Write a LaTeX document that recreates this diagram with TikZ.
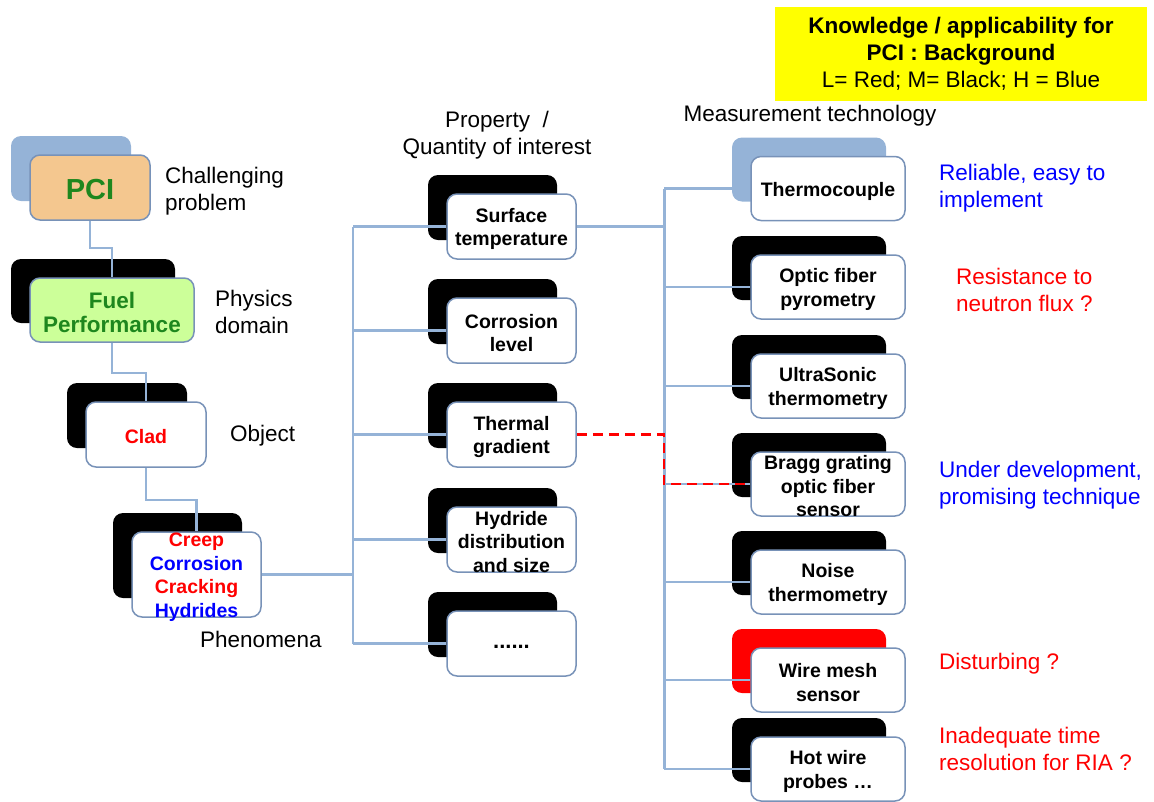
\documentclass[tikz,border=0pt]{standalone}
\usepackage{fontspec}
\setmainfont{Liberation Sans}
\pgfdeclarelayer{bg}\pgfdeclarelayer{mid}\pgfsetlayers{bg,mid,main}
\definecolor{connblue}{RGB}{149,179,215}
\definecolor{edgeblue}{RGB}{120,146,184}
\definecolor{pcifill}{RGB}{244,199,143}
\definecolor{fuelfill}{RGB}{204,255,153}
\definecolor{darkgreen}{RGB}{30,135,30}
\definecolor{tblue}{RGB}{0,0,255}
\definecolor{tred}{RGB}{255,0,0}
\definecolor{yel}{RGB}{255,255,0}
\newcommand\twobox[8]{%
  \begin{pgfonlayer}{bg}\node[backbox,fill=#6,minimum width=#4pt,minimum height=#5pt] (#1b) at (#2-19,#3-19) {};\end{pgfonlayer}
  \node[frontbox,#7,minimum width=#4pt,minimum height=#5pt] (#1) at (#2,#3) {};
  \node[boxtxt] (#1t) at (#2,#3+2.5) {#8};}
\begin{document}
\begin{tikzpicture}[x=1pt,y=-1pt,
  backbox/.style={draw=none,rounded corners=10pt,inner sep=0pt},
  frontbox/.style={draw=edgeblue,line width=1.5pt,fill=white,rounded corners=10pt,inner sep=0pt},
  boxtxt/.style={inner sep=0pt,align=center,font=\fontsize{19.5}{23.5}\selectfont\bfseries},
  conn/.style={draw=connblue,line width=2.3pt},
  redconn/.style={draw=tred,line width=2.5pt,dash pattern=on 10pt off 6pt},
  lbl/.style={inner sep=0pt,align=left,anchor=west,font=\fontsize{22.5}{27}\selectfont},
  hdr/.style={inner sep=0pt,align=center,font=\fontsize{22.5}{27}\selectfont}]
\useasboundingbox (0,0) rectangle (1154,801);
% key box
\node[fill=yel,minimum width=372pt,minimum height=94pt,inner sep=0pt] (key) at (961,54) {};
\node[inner sep=0pt,align=center,font=\fontsize{22.5}{27}\selectfont] (keyt) at (961,54)
  {\textbf{Knowledge / applicability for}\\\textbf{PCI : Background}\\L= Red; M= Black; H = Blue};
% left chain
\twobox{pci}{90}{187.5}{120}{65}{connblue}{fill=pcifill}{\fontsize{29}{32}\selectfont\color{darkgreen}PCI}
\twobox{fuel}{112}{310}{164}{64}{black}{fill=fuelfill}{\fontsize{22.5}{27}\selectfont\color{darkgreen}Fuel\\\fontsize{22.5}{27}\selectfont\color{darkgreen}Performance}
\twobox{clad}{146}{434.5}{120}{65}{black}{}{\color{tred}Clad}
\twobox{phen}{196.5}{574.5}{129}{85}{black}{}{\color{tred}Creep\\\color{tblue}Corrosion\\\color{tred}Cracking\\\color{tblue}Hydrides}
% middle column
\twobox{m1}{511.5}{226.5}{129}{65}{black}{}{Surface\\temperature}
\twobox{m2}{511.5}{330.5}{129}{65}{black}{}{Corrosion\\level}
\twobox{m3}{511.5}{434.5}{129}{65}{black}{}{Thermal\\gradient}
\twobox{m4}{511.5}{539.5}{129}{65}{black}{}{Hydride\\distribution\\and size}
\twobox{m5}{511.5}{643.5}{129}{65}{black}{}{\raisebox{-5pt}{\fontsize{22}{24}\selectfont......}}
% right column
\twobox{r1}{828}{188.5}{154}{64}{connblue}{}{Thermocouple}
\twobox{r2}{828}{287}{154}{64}{black}{}{Optic fiber\\pyrometry}
\twobox{r3}{828}{386}{154}{64}{black}{}{UltraSonic\\thermometry}
\twobox{r4}{828}{484}{154}{64}{black}{}{Bragg grating\\optic fiber\\sensor}
\twobox{r5}{828}{582}{154}{64}{black}{}{Noise\\thermometry}
\twobox{r6}{828}{680}{154}{64}{tred}{}{Wire mesh\\sensor}
\twobox{r7}{828}{769}{154}{64}{black}{}{Hot wire\\probes \dots}
% labels
\node[lbl] (l1) at (165,191.5) {Challenging\\problem};
\node[lbl] (l2) at (215,311.5) {Physics\\domain};
\node[lbl] (l3) at (230,436) {Object};
\node[lbl] (l4) at (200,639) {Phenomena};
\node[hdr] (h1) at (497,135.5) {Property~~/\\Quantity of interest};
\node[hdr] (h2) at (810,116) {Measurement technology};
\node[lbl,text=tblue] (c1) at (939,188.5) {Reliable, easy to\\implement};
\node[lbl,text=tred] (c2) at (956,289.5) {Resistance to\\neutron flux ?};
\node[lbl,text=tblue] (c3) at (939,485.5) {Under development,\\promising technique};
\node[lbl,text=tred] (c4) at (939,664) {Disturbing ?};
\node[lbl,text=tred] (c5) at (939,748.5) {Inadequate time\\resolution for RIA ?};
% connectors
\coordinate (busL) at (353,0);
\coordinate (busR) at (664,0);
\begin{pgfonlayer}{mid}
\draw[conn] (pci.south) -- (pci.south |- 0,248) -| (fuel.north);
\draw[conn] (fuel.south) -- (fuel.south |- 0,373) -| (clad.north);
\draw[conn] (clad.south) -- (clad.south |- 0,500) -| (phen.north);
\draw[conn] (phen.east) -- (phen.east -| busL);
\draw[conn] (busL |- m1.west) -- (busL |- m5.west);
\foreach \m in {m1,m2,m3,m4,m5} \draw[conn] (busL |- \m.west) -- (\m.west);
\draw[conn] (m1.east) -- (m1.east -| busR);
\draw[conn,line width=3pt] (busR |- r1.west) -- (busR |- r7.west);
\foreach \r in {r1,r2,r3,r4,r5,r6,r7} \draw[conn] (busR |- \r.west) -- (\r.west);
\draw[redconn] (m3.east) -- (m3.east -| busR) -- (busR |- r4.west) -- (r4.west);
\end{pgfonlayer}
\end{tikzpicture}
\end{document}
